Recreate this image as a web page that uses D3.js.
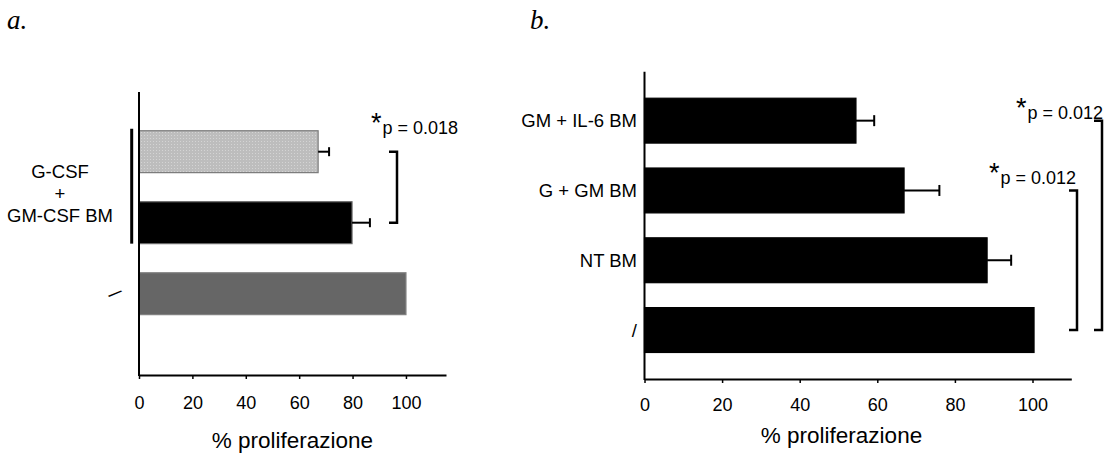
<!DOCTYPE html>
<html lang="it">
<head>
<meta charset="UTF-8">
<title>% proliferazione</title>
<style>
  body { margin: 0; background: #fff; }
  svg { display: block; font-family: "Liberation Sans", Arial, sans-serif; }
  .tick text { font-size: 18px; fill: #000; }
  .lab { font-size: 18.5px; fill: #000; }
  .panel-letter { font-family: "Liberation Serif", "Times New Roman", serif; font-style: italic; font-size: 27px; }
</style>
<script src="https://d3js.org/d3.v7.min.js"></script>
</head>
<body>
<svg width="1112" height="455"></svg>
<script>
// ---- panel a data ----
const catsA = ["G-CSF BM", "GM-CSF BM", "/"];
const valsA = [67.1, 79.8, 100];
const errA = [4.1, 6.7, 0];
const ticksA = [0, 20, 40, 60, 80, 100];
const groupLabelA = ["G-CSF", "+", "GM-CSF BM"];
const compA = [["G-CSF BM", "GM-CSF BM"]];
const pA = ["p = 0.018"];

// ---- panel b data ----
const catsB = ["GM + IL-6 BM", "G + GM BM", "NT BM", "/"];
const valsB = [54.5, 66.9, 88.3, 100.4];
const errB = [4.7, 9.1, 6.2, 0];
const ticksB = [0, 20, 40, 60, 80, 100];
const compB = [["GM + IL-6 BM", "/"], ["G + GM BM", "/"]];
const pB = ["p = 0.012", "p = 0.012"];

const xTitle = "% proliferazione";

const svg = d3.select("svg");

const defs = svg.append("defs");
const pat = defs.append("pattern")
  .attr("id", "dots")
  .attr("width", 3).attr("height", 3)
  .attr("patternUnits", "userSpaceOnUse");
pat.append("rect").attr("width", 3).attr("height", 3).attr("fill", "#bdbdbd");
pat.append("rect").attr("width", 1).attr("height", 1).attr("fill", "#d4d4d4");

function drawPanel(o) {
  const g = svg.append("g");

  const x = d3.scaleLinear().domain([0, o.xMax]).range([o.x0, o.x1]);
  const y = d3.scaleBand().domain(o.cats).range(o.bandRange)
    .paddingInner(o.padIn).paddingOuter(o.padOut);

  // bars
  g.selectAll("rect.bar")
    .data(o.cats)
    .enter().append("rect")
      .attr("class", "bar")
      .attr("x", x(0))
      .attr("y", d => y(d))
      .attr("width", (d, i) => x(o.vals[i]) - x(0))
      .attr("height", y.bandwidth())
      .attr("fill", (d, i) => o.fills[i])
      .attr("stroke", (d, i) => o.strokes[i])
      .attr("stroke-width", 1.2);

  // error bars
  const eb = g.selectAll("g.err")
    .data(o.cats.filter((d, i) => o.errs[i] > 0))
    .enter().append("g").attr("class", "err");
  const hi = d => { const i = o.cats.indexOf(d); return x(o.vals[i] + o.errs[i]); };
  eb.append("line")
    .attr("x1", d => x(o.vals[o.cats.indexOf(d)]))
    .attr("x2", hi)
    .attr("y1", d => y(d) + y.bandwidth() / 2)
    .attr("y2", d => y(d) + y.bandwidth() / 2)
    .attr("stroke", "#000").attr("stroke-width", 2);
  eb.append("line")
    .attr("x1", hi).attr("x2", hi)
    .attr("y1", d => y(d) + y.bandwidth() / 2 - o.cap / 2)
    .attr("y2", d => y(d) + y.bandwidth() / 2 + o.cap / 2)
    .attr("stroke", "#000").attr("stroke-width", 2);

  // x axis
  const ax = g.append("g")
    .attr("transform", `translate(0,${o.axisY})`)
    .call(d3.axisBottom(x).tickValues(o.ticks).tickSize(4).tickSizeOuter(0).tickPadding(o.tickPad));
  ax.attr("font-family", null).attr("font-size", null);
  ax.select(".domain").attr("stroke-width", 2);
  ax.selectAll(".tick line").attr("stroke-width", 1.5);

  // y axis line
  g.append("line")
    .attr("x1", x(0)).attr("x2", x(0))
    .attr("y1", o.axisTop).attr("y2", o.axisY + 1)
    .attr("stroke", "#000").attr("stroke-width", 2);

  // x title
  g.append("text")
    .attr("x", (x(0) + x(100)) / 2 + o.titleDx)
    .attr("y", o.titleY)
    .attr("text-anchor", "middle")
    .attr("font-size", 22.5)
    .text(xTitle);

  // panel letter
  g.append("text").attr("class", "panel-letter")
    .attr("x", o.letterX).attr("y", 29).text(o.letter);

  // significance brackets
  o.comps.forEach((c, i) => {
    const bx = o.bracketX[i];
    const yT = y(c[0]) + y.bandwidth() / 2;
    const yB = y(c[1]) + y.bandwidth() / 2;
    g.append("path")
      .attr("d", `M${bx - 8},${yT}H${bx}V${yB}H${bx - 8}`)
      .attr("fill", "none").attr("stroke", "#000").attr("stroke-width", 2.5);
    const t = g.append("text")
      .attr("x", bx + o.pDx[i]).attr("y", yT + o.pDy[i])
      .attr("text-anchor", o.pAnchor)
      .attr("font-size", 18);
    t.append("tspan").attr("font-size", 27).attr("dy", -2).text("*");
    t.append("tspan").attr("dy", 2).attr("dx", 1).text(o.pvals[i]);
  });

  return { x, y, g };
}

// ---- panel a ----
const A = drawPanel({
  cats: catsA, vals: valsA, errs: errA, ticks: ticksA,
  xMax: 115, x0: 139, x1: 446,
  bandRange: [116.2, 329.2], padIn: 0.41, padOut: 0.205,
  axisY: 375, axisTop: 92, cap: 9, tickPad: 17,
  fills: ["url(#dots)", "#000", "#666"],
  strokes: ["#7a7a7a", "#666", "#808080"],
  titleDx: 20, titleY: 448, letter: "a.", letterX: 7,
  comps: compA, pvals: pA, bracketX: [397],
  pDx: [-26], pDy: [-18], pAnchor: "start"
});

// group label on the left of panel a
const gl = A.g.append("text").attr("class", "lab").attr("text-anchor", "middle");
groupLabelA.forEach((s, i) => {
  gl.append("tspan").attr("x", 60).attr("y", 178.3 + i * 21.7).text(s);
});
A.g.append("line")
  .attr("x1", 131.7).attr("x2", 131.7)
  .attr("y1", A.y(catsA[0]) - 2)
  .attr("y2", A.y(catsA[1]) + A.y.bandwidth())
  .attr("stroke", "#000").attr("stroke-width", 3);
const cy3 = A.y(catsA[2]) + A.y.bandwidth() / 2;
A.g.append("text").attr("class", "lab")
  .attr("text-anchor", "middle")
  .attr("transform", `translate(115,${cy3}) rotate(52)`)
  .attr("dy", "0.35em")
  .text(catsA[2]);

// ---- panel b ----
const B = drawPanel({
  cats: catsB, vals: valsB, errs: errB, ticks: ticksB,
  xMax: 110, x0: 644.5, x1: 1071.3,
  bandRange: [71.7, 379], padIn: 0.357, padOut: 0.38,
  axisY: 379, axisTop: 71.7, cap: 11, tickPad: 15,
  fills: ["#000", "#000", "#000", "#000"],
  strokes: ["#000", "#000", "#000", "#000"],
  titleDx: 3, titleY: 443, letter: "b.", letterX: 530,
  comps: compB, pvals: pB, bracketX: [1102, 1077],
  pDx: [1, -1], pDy: [-2, -6], pAnchor: "end"
});

B.g.selectAll("text.ylab")
  .data(catsB)
  .enter().append("text")
    .attr("class", "lab")
    .attr("x", 637)
    .attr("y", d => B.y(d) + B.y.bandwidth() / 2)
    .attr("dy", "0.35em")
    .attr("text-anchor", "end")
    .text(d => d);
</script>
</body>
</html>
